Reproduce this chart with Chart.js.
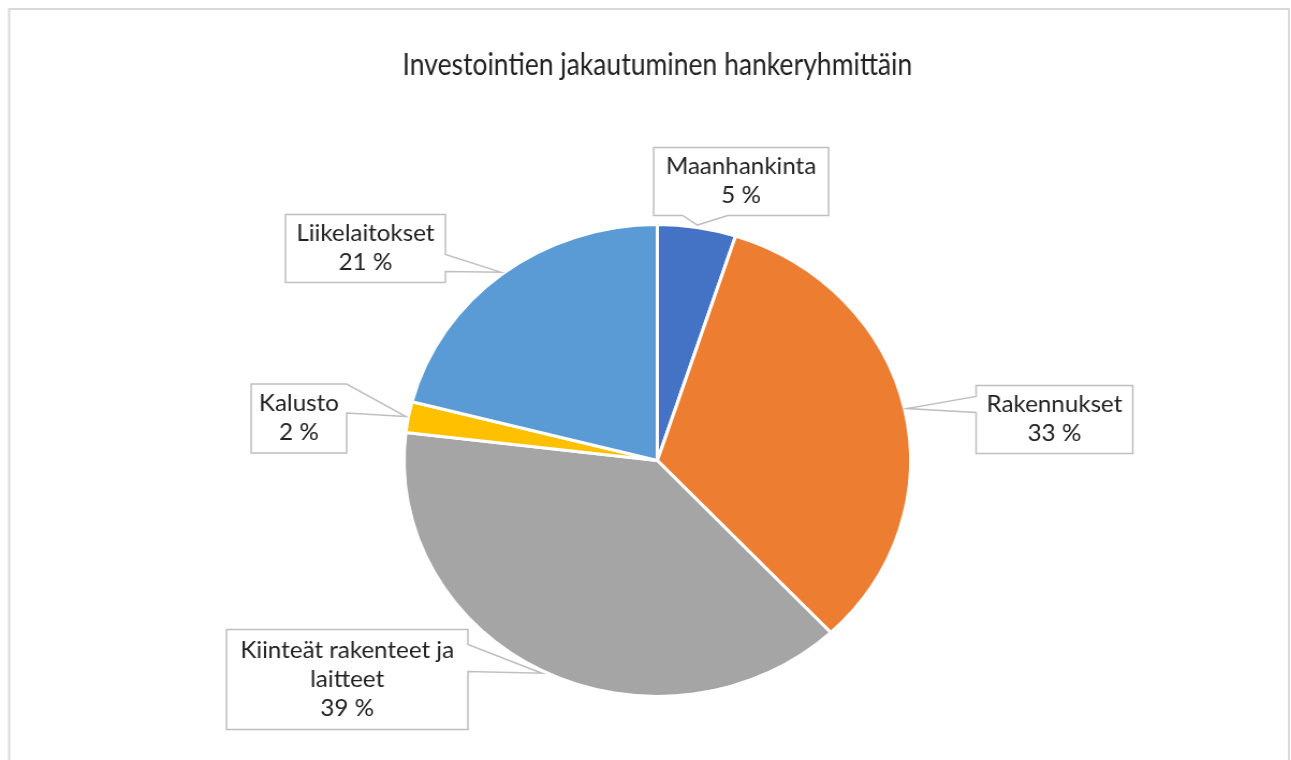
<!DOCTYPE html>
<html>
<head>
<meta charset="utf-8">
<script src="https://cdn.jsdelivr.net/npm/chart.js@4"></script>
<style>
  body { margin: 0; background: #fff; overflow: hidden; }
  /* alkuperäinen kuva on hieman leveämpi kuin korkea, venytetään vaakasuunnassa */
  #piirakka { display: block; transform: scaleX(1.0732); transform-origin: 0 0; }
</style>
</head>
<body>
<canvas id="piirakka" width="1203" height="760"></canvas>
<script>
// hankeryhmät ja osuudet (%)
const ryhmat = ["Maanhankinta", "Rakennukset", "Kiinteät rakenteet ja laitteet", "Kalusto", "Liikelaitokset"];
const osuudet = [5.0, 33.0, 38.9, 2.1, 21.0];
// selitelaatikoiden rivit (rivitys kuten kuvassa)
const rivit = [["Maanhankinta"], ["Rakennukset"], ["Kiinteät rakenteet ja", "laitteet"], ["Kalusto"], ["Liikelaitokset"]];
const varit = ["#4472C4", "#ED7D31", "#A5A5A5", "#FFC000", "#5B9BD5"];

// laatikon keskipiste suhteessa piirakan keskipisteeseen: [dx, dy, leveys, korkeus, sivu, kannan alku, kannan loppu]
const laatikot = [
  [78, -279, 163, 68, "bottom", 27, 69],
  [370, -41, 146, 68, "left", 11, 27],
  [-289, 219, 225, 100, "right", 15, 42],
  [-334, -42, 89, 69, "right", 0, 29],
  [-272, -212, 149, 68, "right", 40, 57]
];

const fontti = "Lato, 'Open Sans', sans-serif";

const kehys = {
  id: "kehys",
  beforeDraw(chart) {
    const c = chart.ctx;
    c.save();
    c.strokeStyle = "#d9d9d9";
    c.lineWidth = 2;
    c.beginPath();
    c.moveTo(8.5, 770);
    c.lineTo(8.5, 9);
    c.lineTo(1201, 9);
    c.lineTo(1201, 770);
    c.stroke();
    c.restore();
  }
};

const selitteet = {
  id: "selitteet",
  afterDraw(chart) {
    const c = chart.ctx;
    const arcs = chart.getDatasetMeta(0).data;
    arcs.forEach((arc, i) => {
      const [dx, dy, w, h, sivu, a, b] = laatikot[i];
      const x0 = arc.x + dx - w / 2, y0 = arc.y + dy - h / 2;
      const kulma = (arc.startAngle + arc.endAngle) / 2;
      const tx = arc.x + Math.cos(kulma) * arc.outerRadius * 1.01;
      const ty = arc.y + Math.sin(kulma) * arc.outerRadius * 1.01;

      c.save();
      c.beginPath();
      c.moveTo(x0, y0);
      c.lineTo(x0 + w, y0);
      if (sivu === "right") {
        c.lineTo(x0 + w, y0 + a);
        c.lineTo(tx, ty);
        c.lineTo(x0 + w, y0 + b);
      }
      c.lineTo(x0 + w, y0 + h);
      if (sivu === "bottom") {
        c.lineTo(x0 + b, y0 + h);
        c.lineTo(tx, ty);
        c.lineTo(x0 + a, y0 + h);
      }
      c.lineTo(x0, y0 + h);
      if (sivu === "left") {
        c.lineTo(x0, y0 + b);
        c.lineTo(tx, ty);
        c.lineTo(x0, y0 + a);
      }
      c.closePath();
      c.fillStyle = "#fff";
      c.fill();
      c.strokeStyle = "#bfbfbf";
      c.lineWidth = 1.5;
      c.stroke();

      const teksti = rivit[i].concat([Math.round(osuudet[i]) + " %"]);
      c.fillStyle = "#222";
      c.font = "22.5px " + fontti;
      c.textAlign = "center";
      c.textBaseline = "middle";
      const rv = 29;
      const alku = y0 + h / 2 - (teksti.length - 1) * rv / 2;
      teksti.forEach((t, j) => c.fillText(t, x0 + w / 2, alku + j * rv));
      c.restore();
    });
  }
};

new Chart(document.getElementById("piirakka"), {
  type: "pie",
  data: {
    labels: ryhmat,
    datasets: [{
      data: osuudet,
      backgroundColor: varit,
      borderColor: "#fff",
      borderWidth: 3
    }]
  },
  options: {
    responsive: false,
    animation: false,
    layout: { padding: { left: 375, right: 353, top: 40, bottom: 62 } },
    plugins: {
      legend: { display: false },
      tooltip: { enabled: false },
      title: {
        display: true,
        text: "Investointien jakautuminen hankeryhmittäin",
        color: "#222",
        font: { family: fontti, size: 30, weight: "normal" },
        padding: { top: 7, bottom: 140 }
      }
    }
  },
  plugins: [kehys, selitteet]
});
</script>
</body>
</html>
